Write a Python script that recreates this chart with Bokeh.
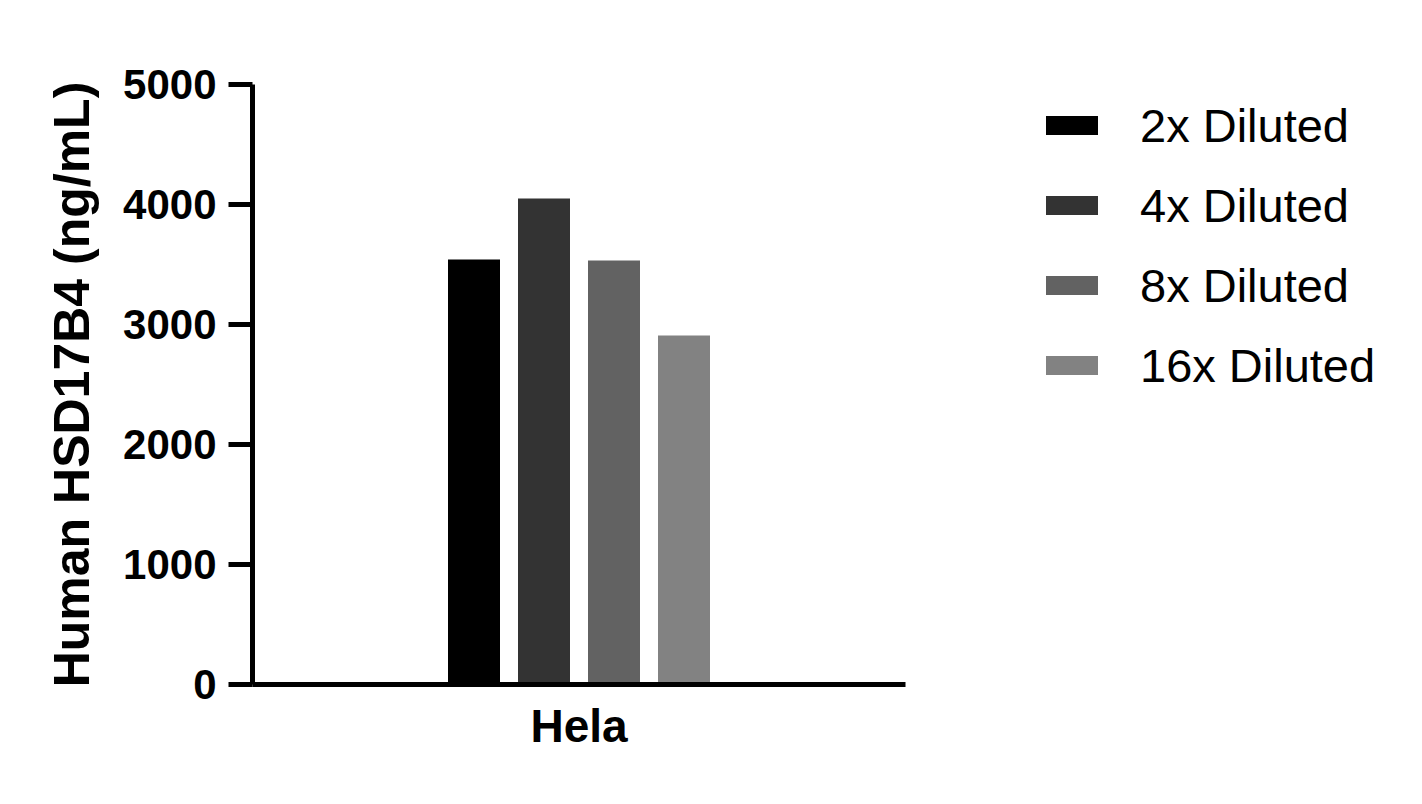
from bokeh.plotting import figure
from bokeh.models import Range1d, FactorRange, FixedTicker, Legend, LegendItem, ColumnDataSource
from bokeh.transform import dodge
from bokeh.embed import file_html
from bokeh.resources import INLINE

categories = ["Hela"]
series = ["2x Diluted", "4x Diluted", "8x Diluted", "16x Diluted"]
values_2x = [3542]
values_4x = [4050]
values_8x = [3533]
values_16x = [2908]
colors = ["#000000", "#333333", "#626262", "#828282"]
y_ticks = [0, 1000, 2000, 3000, 4000, 5000]
y_label = "Human HSD17B4 (ng/mL)"

FONT = "Liberation Sans"

p = figure(x_range=FactorRange(*categories), y_range=Range1d(0, 5000),
           frame_width=653, frame_height=600,
           min_border_left=252, min_border_top=84, min_border_bottom=112, min_border_right=20,
           output_backend="svg", toolbar_location=None)

source = ColumnDataSource(dict(x=categories, v2=values_2x, v4=values_4x, v8=values_8x, v16=values_16x))
cols = ["v2", "v4", "v8", "v16"]
step = 70 / 653
bw = 52 / 653
renderers = []
for i, (col, name, c) in enumerate(zip(cols, series, colors)):
    r = p.vbar(x=dodge("x", (i - 1.5) * step, range=p.x_range), top=col, width=bw,
               source=source, fill_color=c, line_color=None)
    renderers.append((name, r))

legend = Legend(items=[LegendItem(label=n, renderers=[r]) for n, r in renderers],
                location=(134, 289))
legend.glyph_width = 65
legend.glyph_height = 24
legend.label_standoff = 36
legend.spacing = 20
legend.label_height = 60
legend.padding = 0
legend.margin = 0
legend.border_line_color = None
legend.background_fill_alpha = 0
legend.label_text_font = FONT
legend.label_text_font_size = "47px"
legend.label_text_color = "black"
p.add_layout(legend, "right")

p.xgrid.visible = False
p.ygrid.visible = False
p.outline_line_color = None
p.background_fill_color = "white"

ya = p.yaxis[0]
ya.ticker = FixedTicker(ticks=y_ticks)
ya.axis_line_width = 5
ya.major_tick_line_width = 5
ya.major_tick_out = 24
ya.major_tick_in = 0
ya.minor_tick_out = 0
ya.minor_tick_in = 0
ya.major_label_standoff = 12
ya.major_label_text_font = FONT
ya.major_label_text_font_style = "bold"
ya.major_label_text_font_size = "42px"
ya.major_label_text_color = "black"
ya.axis_label = y_label
ya.axis_label_text_font = FONT
ya.axis_label_text_font_style = "bold"
ya.axis_label_text_font_size = "50px"
ya.axis_label_standoff = 20
ya.axis_label_text_color = "black"

xa = p.xaxis[0]
xa.axis_line_width = 5
xa.major_tick_out = 0
xa.major_tick_in = 0
xa.minor_tick_out = 0
xa.major_label_standoff = 15
xa.major_label_text_font = FONT
xa.major_label_text_font_style = "bold"
xa.major_label_text_font_size = "46px"
xa.major_label_text_color = "black"

open("out.html", "w").write(file_html(p, INLINE))
